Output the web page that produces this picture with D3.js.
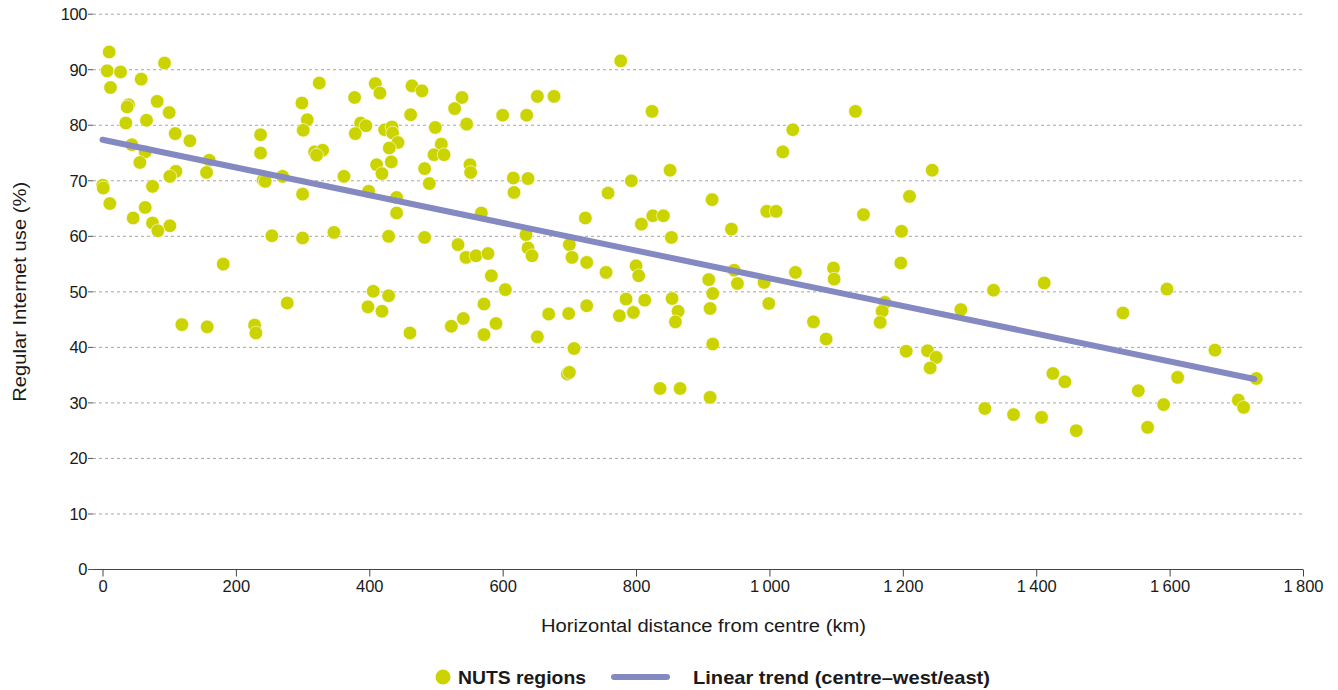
<!DOCTYPE html>
<html><head><meta charset="utf-8">
<script src="https://cdn.jsdelivr.net/npm/d3@7"></script>
<style>body{margin:0;background:#fff} text{font-family:"Liberation Sans",Arial,sans-serif;fill:#1a1a1a}</style>
</head><body><svg id="c" width="1338" height="690"></svg>
<script>
// NUTS regions: horizontal distance from centre (km) and regular Internet use (%)
const distanceKm = [
 10,7,27,12,58,93,39,37,82,100,35,66,109,131,44,64,56,160,156,110,101,0.3,1.2,75,11,46,64,75,101,83,
 237,237,299,325,307,301,318,330,321,241,244,270,300,362,254,300,347,181,277,119,157,228,230,
 409,416,378,464,479,462,539,528,600,636,652,677,387,395,379,423,434,435,443,430,499,546,508,497,512,
 411,419,433,483,490,551,552,399,441,441,568,616,638,617,429,483,533,545,560,578,635,638,644,700,704,
 583,604,406,429,398,419,461,523,541,572,572,590,669,699,652,707,697,700,
 777,824,1035,1020,851,793,758,914,825,841,808,996,1010,943,853,724,726,755,800,804,909,915,911,947,952,
 992,999,1039,1066,726,785,813,775,796,854,863,859,915,836,866,911,
 1129,1244,1210,1141,1198,1197,1096,1097,1085,1173,1169,1166,1287,1336,1412,1205,1237,1250,1241,1323,
 1366,1408,1596,1530,1668,1730,1425,1443,1553,1612,1591,1703,1711,1460,1567
];
const internetUse = [
 93.2,89.8,89.6,86.8,88.3,91.2,83.7,83.3,84.3,82.3,80.4,80.9,78.5,77.2,76.5,75.2,73.3,73.7,71.5,71.7,70.8,69.2,68.7,69.0,65.9,63.3,65.2,62.4,61.9,61.0,
 78.3,75.0,84.0,87.6,81.0,79.1,75.2,75.5,74.6,70.1,69.9,70.8,67.6,70.8,60.1,59.7,60.7,55.0,48.0,44.1,43.7,44.0,42.6,
 87.5,85.8,85.0,87.1,86.2,81.9,85.0,83.0,81.8,81.8,85.2,85.2,80.4,79.9,78.5,79.2,79.7,78.6,76.9,75.9,79.6,80.2,76.6,74.7,74.7,
 72.9,71.3,73.4,72.2,69.5,72.9,71.5,68.1,67.0,64.2,64.2,70.5,70.4,67.9,60.0,59.8,58.5,56.2,56.5,56.9,60.3,57.9,56.5,58.5,56.2,
 52.9,50.4,50.1,49.3,47.3,46.5,42.6,43.8,45.2,47.8,42.3,44.3,46.0,46.1,41.9,39.8,35.2,35.5,
 91.6,82.5,79.2,75.2,71.9,70.0,67.8,66.6,63.7,63.7,62.2,64.5,64.5,61.3,59.8,63.3,55.3,53.5,54.7,52.9,52.2,49.7,47.0,53.9,51.5,
 51.7,47.9,53.5,44.6,47.5,48.7,48.5,45.7,46.3,48.8,46.5,44.6,40.6,32.6,32.6,31.0,
 82.5,71.9,67.2,63.9,60.9,55.2,54.3,52.3,41.5,48.1,46.5,44.5,46.8,50.3,51.6,39.3,39.4,38.2,36.3,29.0,
 27.9,27.4,50.5,46.2,39.5,34.4,35.3,33.8,32.2,34.6,29.7,30.5,29.2,25.0,25.6
];
// Linear trend (centre–west/east) end points
const trendDistance = [0, 1727];
const trendUse = [77.4, 34.3];
const xTicks = [0,200,400,600,800,1000,1200,1400,1600,1800];
const xTickLabels = ["0","200","400","600","800","1\u2009000","1\u2009200","1\u2009400","1\u2009600","1\u2009800"];
const yTicks = [0,10,20,30,40,50,60,70,80,90,100];
const yTickLabels = ["0","10","20","30","40","50","60","70","80","90","100"];
const xTitle = "Horizontal distance from centre (km)";
const yTitle = "Regular Internet use (%)";
const legendLabels = ["NUTS regions","Linear trend (centre\u2013west/east)"];

const svg = d3.select("#c");
const x = d3.scaleLinear().domain([0,1800]).range([102.5,1303]);
const y = d3.scaleLinear().domain([0,100]).range([569.5,14.2]);
const dotColor = "#cbd300", lineColor = "#8589c1";
const left = 93, right = 1303;

// gridlines
svg.append("g").selectAll("line").data(yTicks.filter(d=>d>0)).join("line")
  .attr("x1", left).attr("x2", right)
  .attr("y1", d=>y(d)).attr("y2", d=>y(d))
  .attr("stroke","#a6a6a6").attr("stroke-width",1).attr("stroke-dasharray","3,3");
// y tick marks
svg.append("g").selectAll("line").data(yTicks).join("line")
  .attr("x1", left-5).attr("x2", left).attr("y1", d=>y(d)).attr("y2", d=>y(d))
  .attr("stroke","#555").attr("stroke-width",1);
// y labels
svg.append("g").selectAll("text").data(yTicks).join("text")
  .attr("x", 87).attr("y", d=>y(d)).attr("dy","0.35em").attr("text-anchor","end")
  .attr("font-size",16.5).attr("letter-spacing","-0.4").text((d,i)=>yTickLabels[i]);

// x axis
const xAxis = d3.axisBottom(x).tickValues(xTicks).tickFormat((d,i)=>xTickLabels[i]).tickSize(7).tickPadding(4);
const gx = svg.append("g").attr("transform",`translate(0,${y(0)})`).call(xAxis);
gx.select(".domain").remove();
gx.selectAll(".tick line").attr("stroke","#444");
gx.selectAll("text").attr("font-size",16.5).attr("font-family",'"Liberation Sans",Arial,sans-serif').attr("fill","#1a1a1a");
svg.append("line").attr("x1",left).attr("x2",right).attr("y1",y(0)).attr("y2",y(0)).attr("stroke","#444").attr("stroke-width",1.2);

// points
svg.append("g").selectAll("circle").data(distanceKm.map((d,i)=>[d,internetUse[i]])).join("circle")
  .attr("cx", d=>x(d[0])).attr("cy", d=>y(d[1])).attr("r",6.8)
  .attr("fill",dotColor).attr("stroke","#fff").attr("stroke-width",0.6);

// trend line
svg.append("path").datum(trendDistance.map((d,i)=>[d,trendUse[i]]))
  .attr("d", d3.line().x(d=>x(d[0])).y(d=>y(d[1])))
  .attr("stroke",lineColor).attr("stroke-width",6).attr("stroke-linecap","round").attr("fill","none");

// titles
svg.append("text").attr("x",703.5).attr("y",632).attr("text-anchor","middle").attr("font-size",18).attr("textLength",325).attr("lengthAdjust","spacingAndGlyphs").text(xTitle);
svg.append("text").attr("transform",`translate(26,${(y(0)+y(100))/2}) rotate(-90)`).attr("text-anchor","middle").attr("font-size",18).attr("textLength",220).attr("lengthAdjust","spacingAndGlyphs").text(yTitle);

// legend
const lg = svg.append("g");
lg.append("circle").attr("cx",443).attr("cy",677).attr("r",7.5).attr("fill",dotColor);
lg.append("text").attr("x",458).attr("y",684).attr("font-size",18.5).attr("font-weight","bold").attr("textLength",128).attr("lengthAdjust","spacingAndGlyphs").text(legendLabels[0]);
lg.append("line").attr("x1",614).attr("x2",667).attr("y1",677).attr("y2",677).attr("stroke",lineColor).attr("stroke-width",6).attr("stroke-linecap","round");
lg.append("text").attr("x",693).attr("y",684).attr("font-size",18.5).attr("font-weight","bold").attr("textLength",297).attr("lengthAdjust","spacingAndGlyphs").text(legendLabels[1]);
</script></body></html>
